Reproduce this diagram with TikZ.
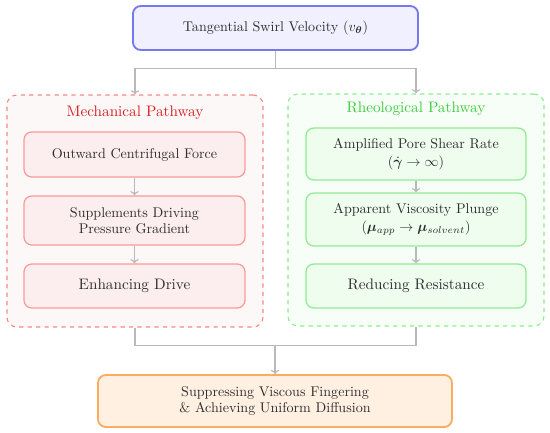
\documentclass[tikz,border=0pt]{standalone}
\usepackage{bm}
\usetikzlibrary{arrows.meta}
\definecolor{topfill}{RGB}{240,240,254}
\definecolor{topdraw}{RGB}{120,120,238}
\definecolor{lgfill}{RGB}{253,248,248}
\definecolor{lgdraw}{RGB}{250,135,135}
\definecolor{lbfill}{RGB}{252,238,238}
\definecolor{lbdraw}{RGB}{250,155,155}
\definecolor{ltitle}{RGB}{215,30,30}
\definecolor{rgfill}{RGB}{247,254,247}
\definecolor{rgdraw}{RGB}{140,238,140}
\definecolor{rbfill}{RGB}{239,253,239}
\definecolor{rbdraw}{RGB}{145,235,145}
\definecolor{rtitle}{RGB}{60,205,60}
\definecolor{botfill}{RGB}{255,240,226}
\definecolor{botdraw}{RGB}{250,172,95}
\definecolor{txt}{RGB}{45,45,45}
\definecolor{conn}{RGB}{185,185,185}
\begin{document}
\begin{tikzpicture}[x=0.71pt,y=-0.71pt,
  basebox/.style={rounded corners=5.5pt, align=center, inner sep=0pt, text=txt, font=\fontsize{10}{11.8}\selectfont},
  topbox/.style={basebox, draw=topdraw, fill=topfill, line width=1.3pt},
  botbox/.style={basebox, draw=botdraw, fill=botfill, line width=1.3pt},
  groupbox/.style={draw, dashed, rounded corners=7pt, line width=0.8pt, inner sep=0pt, minimum width=181.8pt, minimum height=164.7pt},
  lbox/.style={basebox, draw=lbdraw, fill=lbfill, line width=0.9pt, minimum width=156.9pt},
  rbox/.style={basebox, draw=rbdraw, fill=rbfill, line width=0.9pt, minimum width=156.2pt},
  bigtxt/.style={font=\fontsize{10.8}{13}\selectfont},
  grouptitle/.style={inner sep=0pt, font=\fontsize{10.8}{13}\selectfont},
  arr/.style={draw=conn, line width=0.8pt, -{To[length=3pt,width=6pt]}},
  conline/.style={draw=conn, line width=0.8pt}
]
\useasboundingbox (0,0) rectangle (550,433);
\node[topbox, minimum width=202.4pt, minimum height=31.2pt] (top) at (275.5,28) {Tangential Swirl Velocity ($v_{\bm\theta}$)};

\node[groupbox, draw=lgdraw, fill=lgfill] (lg) at (135,211) {};
\node[groupbox, draw=rgdraw, fill=rgfill] (rg) at (416,210) {};

\node[grouptitle, text=ltitle] (lt) at (135,113) {Mechanical Pathway};
\node[grouptitle, text=rtitle] (rt) at (416,109) {Rheological Pathway};

\node[lbox, minimum height=32pt] (l1) at (134.5,154.5) {Outward Centrifugal Force};
\node[lbox, minimum height=34.8pt] (l2) at (134.5,220.5) {Supplements Driving\\Pressure Gradient};
\node[lbox, minimum height=31.2pt, bigtxt] (l3) at (134.5,286) {Enhancing Drive};

\node[rbox, minimum height=36.9pt] (r1) at (416,154) {Amplified Pore Shear Rate\\[1pt]($\dot{\bm\gamma}\to\infty$)};
\node[rbox, minimum height=37.6pt] (r2) at (416,219.5) {Apparent Viscosity Plunge\\[1pt]($\bm\mu_{app}\to\bm\mu_{solvent}$)};
\node[rbox, minimum height=31.2pt, bigtxt] (r3) at (416,286) {Reducing Resistance};

\node[botbox, minimum width=251.3pt, minimum height=36.9pt] (bot) at (275,401) {Suppressing Viscous Fingering\\\& Achieving Uniform Diffusion};

\draw[arr] (top.south) -- ++(0,18) -| (lg.north);
\draw[arr] (top.south) -- ++(0,18) -| (rg.north);
\draw[arr] (l1) -- (l2);
\draw[arr] (l2) -- (l3);
\draw[arr] (r1) -- (r2);
\draw[arr] (r2) -- (r3);
\draw[conline] (lg.south) -- ++(0,18) -| (rg.south);
\coordinate (bj) at (275,345);
\draw[arr] (bj) -- (bot.north);
\end{tikzpicture}
\end{document}
